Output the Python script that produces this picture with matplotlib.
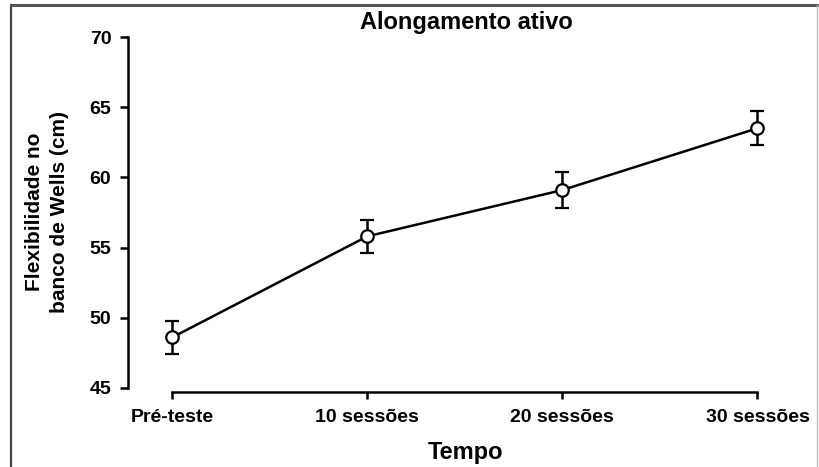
import matplotlib
matplotlib.use('Agg')
import matplotlib.pyplot as plt
from matplotlib.lines import Line2D

plt.rcParams['font.family'] = ['Liberation Sans', 'DejaVu Sans']
plt.rcParams['font.weight'] = 'bold'

# flexibility means and error bars per session group
tempo = ['Pré-teste', '10 sessões', '20 sessões', '30 sessões']
media = [48.6, 55.8, 59.1, 63.5]
erro = [1.15, 1.2, 1.25, 1.2]

W, H = 819, 467
fig = plt.figure(figsize=(W / 100, H / 100), dpi=100)
ax = fig.add_axes([128 / W, 1 - 388 / H, (777 - 128) / W, (388 - 37) / H])

x = list(range(len(tempo)))
ax.errorbar(x, media, yerr=erro, color='black', lw=1.8, elinewidth=1.8,
            capsize=5, capthick=1.8, marker='o', markersize=9,
            markerfacecolor='white', markeredgecolor='black',
            markeredgewidth=1.6, clip_on=False, zorder=3)

ax.set_ylim(45, 70)
ax.set_xlim(-0.226, 3.1)
ax.set_yticks([45, 50, 55, 60, 65, 70])
ax.set_xticks(x)
ax.set_xticklabels(tempo)

for s in ['top', 'right']:
    ax.spines[s].set_visible(False)
ax.spines['left'].set_linewidth(1.8)
ax.spines['bottom'].set_linewidth(1.8)
ax.spines['bottom'].set_position(('outward', 3))
ax.spines['bottom'].set_bounds(0, 3)
ax.tick_params(axis='both', width=1.8, length=6, labelsize=14, direction='out')
ax.tick_params(axis='x', length=5, pad=7)
ax.tick_params(axis='y', pad=6)
for lbl in ax.get_xticklabels() + ax.get_yticklabels():
    lbl.set_fontweight('bold')

fig.text(466 / W, 1 - 22 / H, 'Alongamento ativo', ha='center', va='center',
         fontsize=17, fontweight='bold')
fig.text(465 / W, 1 - 452 / H, 'Tempo', ha='center', va='center',
         fontsize=17, fontweight='bold')
fig.text(47 / W, 1 - 212 / H, 'Flexibilidade no\nbanco de Wells (cm)',
         ha='center', va='center', rotation=90, fontsize=15,
         fontweight='bold', linespacing=1.35)

# frame around the figure
fig.add_artist(Line2D([11 / W, 11 / W], [0, 1 - 5 / H], color='#444444', lw=1.6))
fig.add_artist(Line2D([11 / W, 817 / W], [1 - 5 / H, 1 - 5 / H], color='#555555', lw=2.2))
fig.add_artist(Line2D([817 / W, 817 / W], [0, 1 - 5 / H], color='#bbbbbb', lw=1.0))

fig.savefig('out.png', dpi=100, facecolor='white')
